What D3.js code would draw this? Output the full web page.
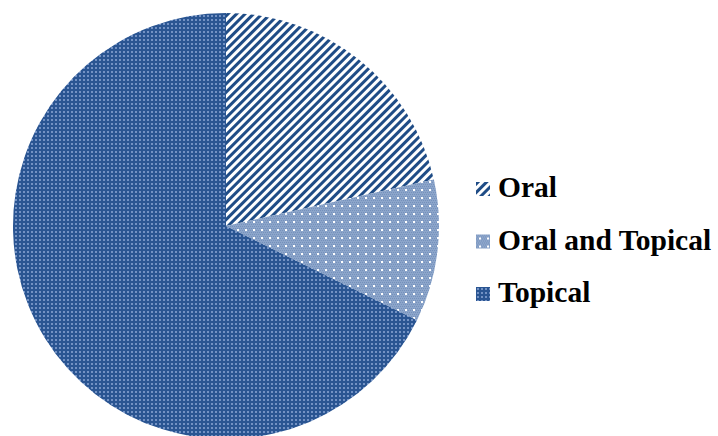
<!DOCTYPE html>
<html><head><meta charset="utf-8">
<script src="https://cdn.jsdelivr.net/npm/d3@7"></script>
<style>body{margin:0;background:#fff}svg{display:block}</style>
</head><body>
<script>
const categories = ["Oral", "Oral and Topical", "Topical"];
const values = [21.5, 10.8, 67.7];
const patternIds = ["pOral", "pBoth", "pTopical"];

const W = 718, H = 436;
const svg = d3.select("body").append("svg").attr("width", W).attr("height", H);
const defs = svg.append("defs");

// Oral: diagonal stripes
const p1 = defs.append("pattern").attr("id", "pOral").attr("patternUnits", "userSpaceOnUse")
  .attr("width", 6).attr("height", 6).attr("patternTransform", "rotate(45)");
p1.append("rect").attr("width", 6).attr("height", 6).attr("fill", "#ffffff");
p1.append("rect").attr("x", 0).attr("width", 3).attr("height", 6).attr("fill", "#1f4c86");

// Oral and Topical: light blue fine checker + white dots on a grid
const p2 = defs.append("pattern").attr("id", "pBoth").attr("patternUnits", "userSpaceOnUse")
  .attr("width", 8).attr("height", 8);
p2.append("rect").attr("width", 8).attr("height", 8).attr("fill", "#8ca5ca");
for (let i = 0; i < 8; i += 2) for (let j = 0; j < 8; j += 2) {
  p2.append("rect").attr("x", i + ((j / 2) % 2)).attr("y", j).attr("width", 1).attr("height", 1).attr("fill", "#7591bc");
}
p2.append("rect").attr("x", 3).attr("y", 3).attr("width", 2).attr("height", 2).attr("fill", "#ffffff");

// Topical: dark blue with light small squares
const p3 = defs.append("pattern").attr("id", "pTopical").attr("patternUnits", "userSpaceOnUse")
  .attr("width", 4).attr("height", 4);
p3.append("rect").attr("width", 4).attr("height", 4).attr("fill", "#2a5592");
p3.append("rect").attr("x", 1).attr("y", 1).attr("width", 2).attr("height", 2).attr("fill", "#7392c4");

const cx = 226, cy = 226, R = 213;
const pie = d3.pie().sort(null).value(d => d)(values);
const arc = d3.arc().innerRadius(0).outerRadius(R);

svg.append("g").attr("transform", `translate(${cx},${cy})`)
  .selectAll("path").data(pie).join("path")
  .attr("d", arc)
  .attr("fill", (d, i) => `url(#${patternIds[i]})`);

// Legend
const lg = svg.append("g").attr("transform", "translate(476,182)");
const items = lg.selectAll("g").data(categories).join("g")
  .attr("transform", (d, i) => `translate(0,${i * 52.5})`);
items.append("rect").attr("width", 14).attr("height", 14)
  .attr("fill", (d, i) => `url(#${patternIds[i]})`);
items.append("text").attr("x", 22).attr("y", 15)
  .style("font-family", '"Liberation Serif"')
  .style("font-weight", "bold")
  .style("font-size", "29.5px")
  .style("fill", "#000")
  .text(d => d);
</script>
</body></html>
